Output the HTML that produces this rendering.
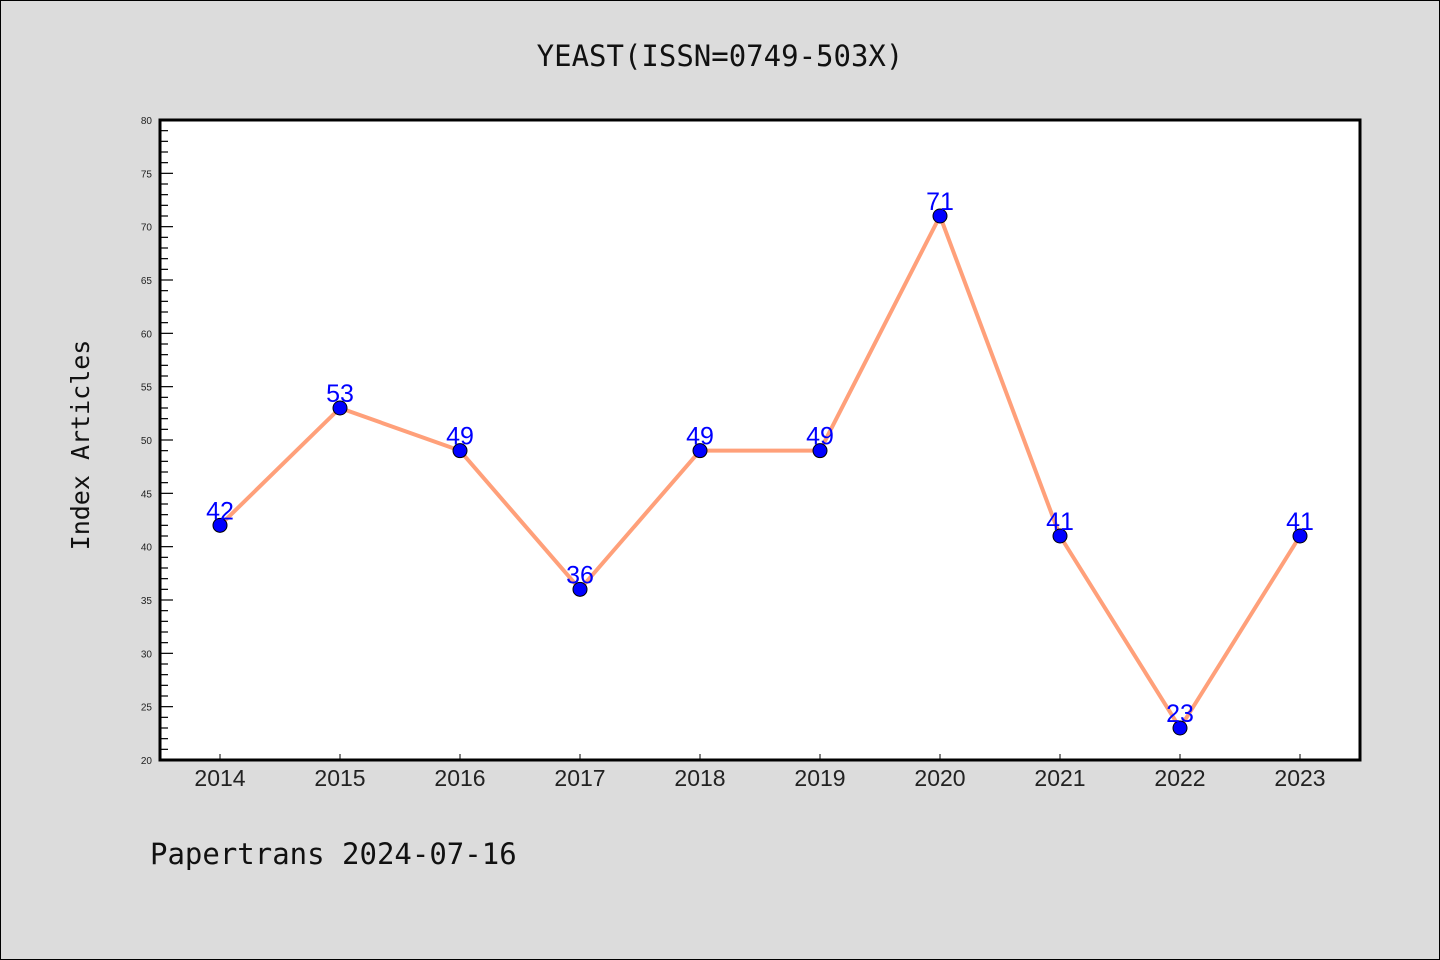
<!DOCTYPE html>
<html><head><meta charset="utf-8"><style>
html,body{margin:0;padding:0;background:#dcdcdc;}
svg{display:block;font-family:"Liberation Sans","DejaVu Sans",sans-serif;}
</style></head><body>
<svg id="chart" width="1440" height="960" viewBox="0 0 1440 960">
<rect x="0.5" y="0.5" width="1439" height="959" fill="#dcdcdc" stroke="#000" stroke-width="1"/>
<text x="720" y="66" text-anchor="middle" font-size="29" font-family="DejaVu Sans Mono, monospace" fill="#111">YEAST(ISSN=0749-503X)</text>
<rect x="160" y="120" width="1200" height="640" fill="#fff"/>
<g id="yaxis"></g>
<g id="xaxis"></g>
<g id="series"></g>
<rect x="160" y="120" width="1200" height="640" fill="none" stroke="#000" stroke-width="3"/>
<text transform="translate(89,445) rotate(-90)" text-anchor="middle" font-size="25" font-family="DejaVu Sans Mono, monospace" fill="#111">Index Articles</text>
<text x="150" y="864" font-size="29" font-family="DejaVu Sans Mono, monospace" fill="#111">Papertrans 2024-07-16</text>
</svg>
<script>
const categories = ["2014","2015","2016","2017","2018","2019","2020","2021","2022","2023"];
const values = [42,53,49,36,49,49,71,41,23,41];
const yTicks = [20,25,30,35,40,45,50,55,60,65,70,75,80];
const NS="http://www.w3.org/2000/svg";
const X0=160,X1=1360,Y0=760,Y1=120,yMin=20,yMax=80;
function xs(i){return X0+60+i*(X1-X0-120)/(categories.length-1);}
function ys(v){return Y0-(v-yMin)/(yMax-yMin)*(Y0-Y1);}
function mk(tag,attrs,parent){const e=document.createElementNS(NS,tag);for(const k in attrs)e.setAttribute(k,attrs[k]);parent.appendChild(e);return e;}
const ya=document.getElementById('yaxis');
for(let v=yMin;v<=yMax;v++){
  const major=v%5===0;
  const t=mk('line',{x1:X0,x2:X0+(major?13:8),y1:ys(v),y2:ys(v),stroke:'#000','stroke-width':1.2},ya);
  
  
}
yTicks.forEach(v=>{
  const t=mk('text',{x:152,y:ys(v)+4,'text-anchor':'end','font-size':10,fill:'#222'},ya);
  t.textContent=v;
  
  
});
const xa=document.getElementById('xaxis');
categories.forEach((c,i)=>{
  const l=mk('line',{x1:xs(i),x2:xs(i),y1:Y0,y2:Y0-6,stroke:'#000','stroke-width':1},xa);
  
  
  const t=mk('text',{x:xs(i),y:786,'text-anchor':'middle','font-size':23,fill:'#222'},xa);
  t.textContent=c;
  
  
});
const s=document.getElementById('series');
const pl=mk('polyline',{points:values.map((v,i)=>xs(i)+','+ys(v)).join(' '),fill:'none',stroke:'#ffa07a','stroke-width':4,'stroke-linejoin':'round'},s);


values.forEach((v,i)=>{
  const c=mk('circle',{cx:xs(i),cy:ys(v),r:7,fill:'#0000ff',stroke:'#000','stroke-width':1},s);
  
  
  const t=mk('text',{x:xs(i),y:ys(v)-6,'text-anchor':'middle','font-size':25,fill:'#0000ff'},s);
  t.textContent=v;
  
  
});
</script>
</body></html>
